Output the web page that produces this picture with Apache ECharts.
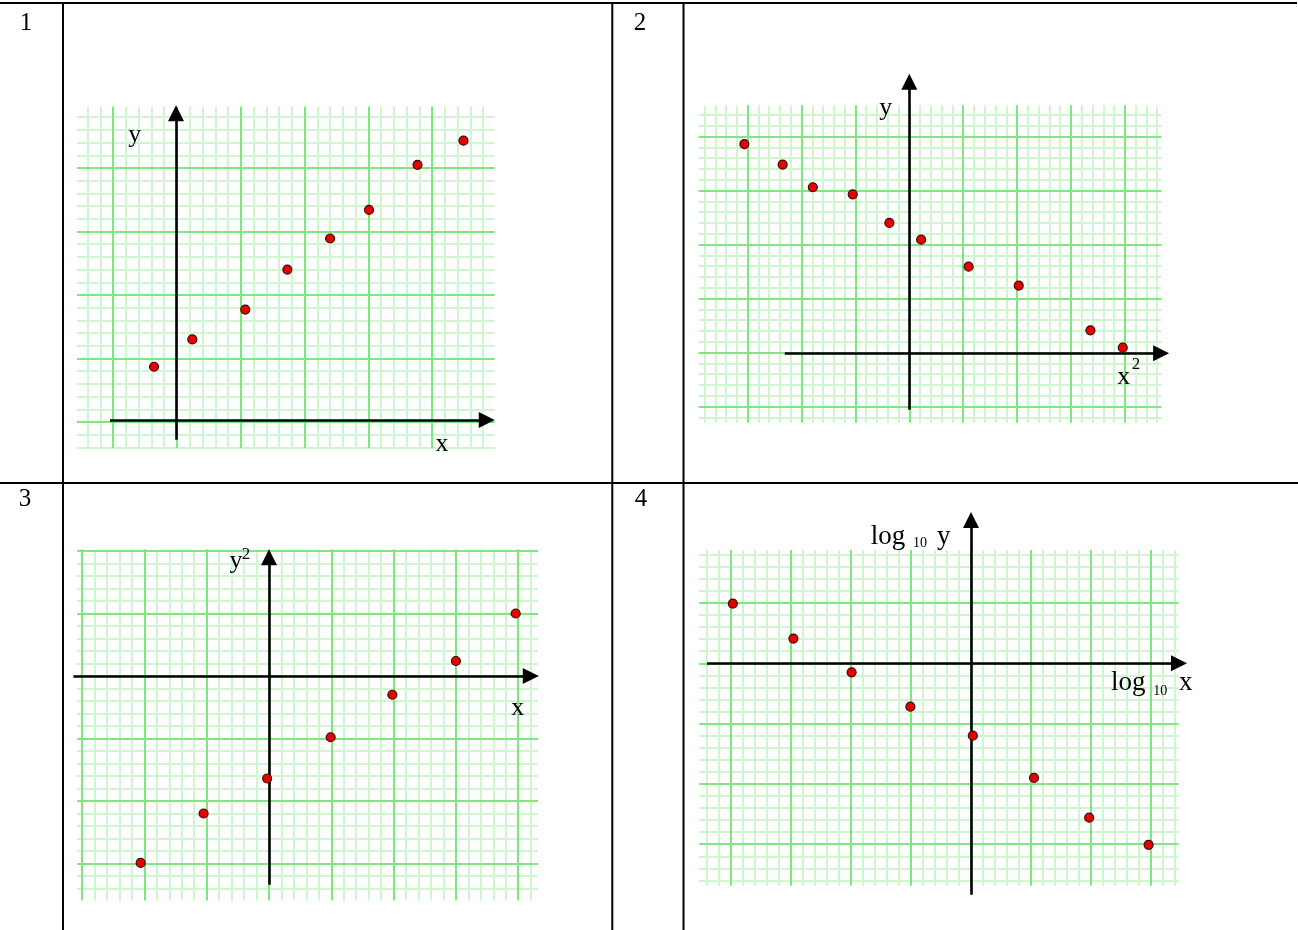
<!DOCTYPE html>
<html>
<head>
<meta charset="utf-8">
<script src="https://cdn.jsdelivr.net/npm/echarts@6/dist/echarts.min.js"></script>
<style>
  html, body { margin: 0; padding: 0; background: #ffffff; }
  #chart { width: 1298px; height: 930px; }
</style>
</head>
<body>
<div id="chart"></div>
<script>
// Plotted points of the four graphs, in graph-paper units (1 unit = one heavy square)
const plot1X = [-0.36, 0.24, 1.07, 1.73, 2.40, 3.01, 3.77, 4.49];
const plot1Y = [0.87, 1.30, 1.77, 2.40, 2.89, 3.34, 4.05, 4.43];

const plot2X = [-3.06, -2.35, -1.79, -1.05, -0.37, 0.22, 1.10, 2.03, 3.36, 3.96];
const plot2Y = [3.86, 3.48, 3.06, 2.93, 2.40, 2.09, 1.59, 1.24, 0.41, 0.09];

const plot3X = [-2.06, -1.05, -0.03, 0.99, 1.98, 3.00, 3.96];
const plot3Y = [-2.99, -2.20, -1.64, -0.98, -0.30, 0.24, 1.00];

const plot4X = [-3.97, -2.96, -1.99, -1.01, 0.03, 1.05, 1.97, 2.96];
const plot4Y = [0.99, 0.41, -0.15, -0.72, -1.20, -1.90, -2.56, -3.01];

const panelNumbers = ['1', '2', '3', '4'];

// Layout of each graph: pixel origin and unit size, axis range, paper extent, axis arrows
const panels = [
  { xs: plot1X, ys: plot1Y, origin: [177, 422], unit: [63.8, 63.5],
    range: { x: [-2, 6], y: [-1, 6] }, paper: { x: [-1.57, 4.98], y: [-0.41, 4.97] },
    xArrow: { from: -1.05, tip: 4.98, at: 0.03 }, yArrow: { from: -0.28, tip: 4.99, at: -0.016 } },
  { xs: plot2X, ys: plot2Y, origin: [909.3, 352.5], unit: [53.9, 54],
    range: { x: [-5, 6], y: [-2, 6] }, paper: { x: [-3.91, 4.68], y: [-1.30, 4.58] },
    xArrow: { from: -2.31, tip: 4.82, at: -0.015 }, yArrow: { from: -1.06, tip: 5.16, at: 0 } },
  { xs: plot3X, ys: plot3Y, origin: [269, 676], unit: [62.3, 62.5],
    range: { x: [-4, 5], y: [-4, 3] }, paper: { x: [-3.08, 4.32], y: [-3.59, 2.03] },
    xArrow: { from: -3.14, tip: 4.33, at: 0 }, yArrow: { from: -3.34, tip: 2.03, at: 0 } },
  { xs: plot4X, ys: plot4Y, origin: [971, 663.3], unit: [60, 60.3],
    range: { x: [-5, 4], y: [-4, 3] }, paper: { x: [-4.53, 3.46], y: [-3.69, 1.88] },
    xArrow: { from: -4.40, tip: 3.60, at: 0 }, yArrow: { from: -3.84, tip: 2.51, at: 0 } }
];

const MINOR = 0.2;
const ARROW = 16;
const minorStyle = { color: '#d0f6d0', width: 2, type: 'solid' };
const majorStyle = { color: '#7ee87e', width: 2, type: 'solid' };
const axisStyle = { color: '#000000', width: 2.6, type: 'solid' };

const grids = [], xAxes = [], yAxes = [], series = [];

panels.forEach((p, i) => {
  const [ox, oy] = p.origin, [ux, uy] = p.unit;
  grids.push({
    left: ox + p.range.x[0] * ux,
    top: oy - p.range.y[1] * uy,
    width: (p.range.x[1] - p.range.x[0]) * ux,
    height: (p.range.y[1] - p.range.y[0]) * uy
  });
  xAxes.push({ type: 'value', gridIndex: i, min: p.range.x[0], max: p.range.x[1], show: false });
  yAxes.push({ type: 'value', gridIndex: i, min: p.range.y[0], max: p.range.y[1], show: false });

  // graph-paper rulings: light every 0.2, heavy every whole unit
  const minorLines = [], majorLines = [];
  const rule = (lo, hi, make) => {
    for (let k = Math.ceil(lo / MINOR); k <= Math.floor(hi / MINOR); k++) {
      const v = Math.round(k * MINOR * 100) / 100;
      (k % 5 === 0 ? majorLines : minorLines).push(make(v));
    }
  };
  rule(p.paper.x[0], p.paper.x[1], v => [{ coord: [v, p.paper.y[0]] }, { coord: [v, p.paper.y[1]] }]);
  rule(p.paper.y[0], p.paper.y[1], v => [{ coord: [p.paper.x[0], v] }, { coord: [p.paper.x[1], v] }]);

  const ruling = (lines, style, z) => ({
    type: 'line', xAxisIndex: i, yAxisIndex: i, data: [], silent: true,
    markLine: {
      silent: true, z: z, symbol: ['none', 'none'], label: { show: false },
      lineStyle: style, emphasis: { disabled: true }, data: lines
    }
  });
  series.push(ruling(minorLines, minorStyle, 1));
  series.push(ruling(majorLines, majorStyle, 2));

  // coordinate axes with arrow heads (arrow symbol is centred on the line end)
  const hx = ARROW / 2 / ux, hy = ARROW / 2 / uy;
  series.push({
    type: 'line', xAxisIndex: i, yAxisIndex: i, data: [], silent: true,
    markLine: {
      silent: true, z: 3, symbol: ['none', 'triangle'], symbolSize: ARROW,
      label: { show: false }, lineStyle: axisStyle, emphasis: { disabled: true },
      itemStyle: { color: '#000000' },
      data: [
        [{ coord: [p.xArrow.from, p.xArrow.at] }, { coord: [p.xArrow.tip - hx, p.xArrow.at] }],
        [{ coord: [p.yArrow.at, p.yArrow.from] }, { coord: [p.yArrow.at, p.yArrow.tip - hy] }]
      ]
    }
  });

  series.push({
    type: 'scatter', xAxisIndex: i, yAxisIndex: i, z: 10, silent: true,
    symbol: 'circle', symbolSize: 9,
    itemStyle: { color: '#e60000', borderColor: '#3a0a0a', borderWidth: 1.2, opacity: 1 },
    data: p.xs.map((x, j) => [x, p.ys[j]])
  });
});

// table frame and text
const serif = '"Liberation Serif", "Times New Roman", serif';
const txt = (text, x, y, size, align) => ({
  type: 'text', z: 100, silent: true,
  style: {
    text: text, x: x, y: y, font: size + 'px ' + serif, fill: '#000000',
    align: align || 'center', verticalAlign: 'middle',
    textAlign: align || 'center', textVerticalAlign: 'middle'
  }
});
const rule = (x1, y1, x2, y2) => ({
  type: 'line', z: 100, silent: true,
  shape: { x1: x1, y1: y1, x2: x2, y2: y2 },
  style: { stroke: '#000000', lineWidth: 2 }
});

const graphics = [
  rule(0, 3, 1297, 3),
  rule(0, 483, 1298, 483),
  rule(63, 2, 63, 930),
  rule(612.3, 2, 612.3, 930),
  rule(683.5, 2, 683.5, 930),
  txt(panelNumbers[0], 26, 23, 25),
  txt(panelNumbers[1], 640, 23, 25),
  txt(panelNumbers[2], 25, 499, 25),
  txt(panelNumbers[3], 641, 499, 25),
  // graph 1
  txt('y', 134.7, 135, 26),
  txt('x', 442, 444, 26),
  // graph 2
  txt('y', 885.7, 108.5, 26),
  txt('x', 1123.8, 377.5, 26),
  txt('2', 1136, 364.3, 17),
  // graph 3
  txt('y', 236, 561.5, 26),
  txt('2', 246, 554.3, 17),
  txt('x', 517.8, 708.5, 26),
  // graph 4
  txt('log', 870.7, 536.5, 27, 'left'),
  txt('10', 913, 543.6, 14, 'left'),
  txt('y', 937, 536.5, 27, 'left'),
  txt('log', 1111, 682.5, 27, 'left'),
  txt('10', 1153.3, 691.3, 14, 'left'),
  txt('x', 1179, 682.5, 27, 'left')
];

const chart = echarts.init(document.getElementById('chart'), null, { renderer: 'canvas' });
chart.setOption({
  animation: false,
  backgroundColor: '#ffffff',
  grid: grids,
  xAxis: xAxes,
  yAxis: yAxes,
  series: series,
  graphic: graphics
});
</script>
</body>
</html>
